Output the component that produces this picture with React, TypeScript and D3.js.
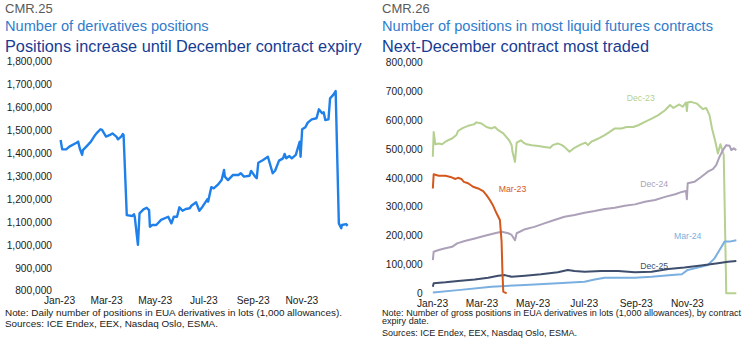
import * as d3 from "d3"
import { useEffect, useRef } from "react"

const FONT = '"Liberation Sans", Arial, sans-serif'

// CMR.25 – daily EUA derivative positions, thousands of lots (MM-DD in 2023)
const totalPositions: [string, number][] = [
  ["01-03", 1458], ["01-05", 1417], ["01-10", 1417], ["01-14", 1429], ["01-23", 1446],
  ["01-25", 1451], ["01-27", 1422], ["01-30", 1393], ["01-31", 1414], ["02-06", 1436],
  ["02-10", 1451], ["02-14", 1473], ["02-17", 1487], ["02-22", 1505], ["02-24", 1502],
  ["03-01", 1473], ["03-06", 1480], ["03-09", 1487], ["03-14", 1473], ["03-16", 1461],
  ["03-20", 1473], ["03-22", 1484], ["03-23", 1480], ["03-27", 1130], ["04-03", 1126],
  ["04-05", 1134], ["04-06", 1123], ["04-10", 1000], ["04-12", 1138], ["04-17", 1155],
  ["04-21", 1162], ["04-24", 1152], ["04-25", 1079], ["04-28", 1087], ["05-03", 1087],
  ["05-09", 1109], ["05-18", 1123], ["05-22", 1094], ["05-25", 1123], ["05-29", 1123],
  ["06-01", 1164], ["06-05", 1149], ["06-09", 1157], ["06-14", 1160], ["06-16", 1171],
  ["06-22", 1186], ["06-26", 1149], ["06-30", 1167], ["07-06", 1199], ["07-07", 1189],
  ["07-11", 1252], ["07-14", 1247], ["07-19", 1262], ["07-24", 1283], ["07-27", 1327],
  ["07-28", 1298], ["08-01", 1283], ["08-07", 1305], ["08-14", 1305], ["08-17", 1313],
  ["08-21", 1298], ["08-28", 1302], ["08-30", 1323], ["09-04", 1298], ["09-06", 1291],
  ["09-08", 1359], ["09-14", 1371], ["09-20", 1385], ["09-26", 1313], ["09-29", 1324],
  ["10-04", 1368], ["10-09", 1378], ["10-11", 1397], ["10-13", 1378], ["10-17", 1388],
  ["10-20", 1378], ["10-25", 1393], ["10-30", 1451], ["10-31", 1385], ["11-02", 1505],
  ["11-06", 1514], ["11-09", 1534], ["11-14", 1548], ["11-20", 1553], ["11-23", 1592],
  ["11-27", 1575], ["11-29", 1579], ["12-01", 1545], ["12-05", 1548], ["12-07", 1640],
  ["12-11", 1655], ["12-14", 1672], ["12-18", 1094], ["12-21", 1073], ["12-22", 1087],
  ["12-27", 1091], ["12-29", 1083],
]

// CMR.26 – positions by contract, thousands of lots
const dec23: [string, number][] = [
  ["01-02", 473], ["01-03", 559], ["01-05", 516], ["01-09", 519], ["01-13", 516],
  ["01-17", 525], ["01-20", 530], ["01-25", 536], ["01-30", 548], ["02-01", 562],
  ["02-07", 573], ["02-13", 580], ["02-20", 585], ["02-23", 592], ["03-01", 588],
  ["03-07", 576], ["03-13", 571], ["03-17", 576], ["03-21", 565], ["03-27", 554],
  ["04-03", 530], ["04-06", 513], ["04-07", 490], ["04-10", 455], ["04-12", 522],
  ["04-17", 530], ["04-20", 522], ["04-24", 516], ["04-30", 513], ["05-08", 510],
  ["05-15", 507], ["05-22", 504], ["05-25", 513], ["05-31", 519], ["06-05", 513],
  ["06-08", 507], ["06-14", 490], ["06-20", 504], ["06-26", 513], ["07-03", 522],
  ["07-06", 513], ["07-10", 525], ["07-14", 530], ["07-20", 538], ["07-26", 548],
  ["08-01", 559], ["08-07", 571], ["08-15", 571], ["08-21", 576], ["08-29", 576],
  ["09-04", 582], ["09-12", 594], ["09-20", 605], ["09-28", 617], ["10-06", 634],
  ["10-12", 652], ["10-16", 642], ["10-23", 654], ["10-27", 646], ["10-31", 661],
  ["11-01", 631], ["11-02", 661], ["11-06", 663], ["11-13", 657], ["11-16", 649],
  ["11-20", 638], ["11-24", 642], ["11-28", 617], ["12-01", 571], ["12-05", 525],
  ["12-08", 484], ["12-11", 516], ["12-12", 507], ["12-15", 479], ["12-18", 0],
  ["12-30", 0],
]

const mar23: [string, number][] = [
  ["01-02", 363], ["01-03", 412], ["01-09", 407], ["01-17", 407], ["01-23", 403],
  ["01-29", 396], ["02-01", 400], ["02-05", 396], ["02-08", 386], ["02-13", 381],
  ["02-19", 369], ["02-25", 363], ["03-03", 354], ["03-07", 340], ["03-11", 323],
  ["03-15", 303], ["03-19", 277], ["03-23", 254], ["03-25", 179], ["03-26", 75],
  ["03-27", 6], ["03-31", 0],
]

const dec24: [string, number][] = [
  ["01-02", 115], ["01-03", 144], ["01-09", 150], ["01-17", 156], ["01-25", 161],
  ["01-31", 173], ["02-09", 181], ["02-21", 190], ["03-05", 199], ["03-17", 208],
  ["03-25", 213], ["04-02", 208], ["04-06", 202], ["04-10", 184], ["04-12", 208],
  ["04-22", 222], ["05-03", 230], ["05-15", 242], ["05-27", 254], ["06-08", 265],
  ["06-20", 271], ["07-02", 279], ["07-14", 285], ["07-26", 292], ["08-07", 296],
  ["08-19", 303], ["08-31", 308], ["09-12", 317], ["09-24", 323], ["10-06", 334],
  ["10-18", 343], ["10-27", 352], ["10-31", 354], ["11-01", 326], ["11-02", 381],
  ["11-10", 386], ["11-18", 403], ["11-26", 421], ["12-02", 430], ["12-06", 444],
  ["12-10", 473], ["12-14", 496], ["12-18", 513], ["12-22", 511], ["12-24", 496],
  ["12-27", 502], ["12-30", 496],
]

const mar24: [string, number][] = [
  ["01-02", 3], ["02-01", 11], ["03-13", 23], ["04-22", 29], ["05-31", 35],
  ["07-02", 40], ["07-14", 48], ["07-26", 54], ["08-11", 54], ["08-31", 54],
  ["09-20", 57], ["10-14", 63], ["10-26", 66], ["11-02", 81], ["11-14", 89],
  ["11-26", 98], ["12-04", 121], ["12-10", 150], ["12-16", 179], ["12-22", 179],
  ["12-30", 184],
]

const dec25: [string, number][] = [
  ["01-02", 23], ["01-03", 35], ["01-17", 38], ["02-01", 43], ["02-21", 48],
  ["03-09", 54], ["03-21", 61], ["03-29", 63], ["04-06", 57], ["04-22", 61],
  ["05-11", 66], ["05-31", 73], ["06-12", 81], ["06-20", 77], ["07-02", 75],
  ["07-22", 77], ["08-11", 77], ["08-31", 73], ["09-20", 75], ["10-10", 84],
  ["10-29", 89], ["11-18", 96], ["12-08", 104], ["12-20", 109], ["12-30", 112],
]

const monthTicks = ["01-01", "03-01", "05-01", "07-01", "09-01", "11-01"]
const leftYTicks = [800, 900, 1000, 1100, 1200, 1300, 1400, 1500, 1600, 1700, 1800]
const rightYTicks = [0, 100, 200, 300, 400, 500, 600, 700, 800]

const contracts = [
  { name: "Dec-23", data: dec23, colour: "#b5d090", label: ["09-07", 677] },
  { name: "Dec-24", data: dec24, colour: "#aca1b8", label: ["09-23", 377] },
  { name: "Mar-24", data: mar24, colour: "#7aafe0", label: ["11-02", 198] },
  { name: "Dec-25", data: dec25, colour: "#3e4e6c", label: ["09-23", 96] },
  { name: "Mar-23", data: mar23, colour: "#d4581c", label: ["04-07", 363] },
]

const parse = (md: string) => d3.timeParse("%Y-%m-%d")("2023-" + md) as Date
const fmtMonth = d3.timeFormat("%b-%y")
const fmtNum = d3.format(",")

const drawAxes = (g, x, y, yTicks, yAxisX, xAxisY) => {
  const yAxis = g
    .append("g")
    .attr("transform", `translate(${yAxisX},0)`)
    .call(
      d3
        .axisLeft(y)
        .tickValues(yTicks)
        .tickSize(0)
        .tickPadding(0)
        .tickFormat((d) => fmtNum(d * 1000))
    )
  yAxis.select(".domain").remove()
  yAxis.selectAll("text").style("font-size", "10.2px").attr("fill", "#1a1a1a")

  const xAxis = g
    .append("g")
    .attr("transform", `translate(0,${xAxisY})`)
    .call(
      d3
        .axisBottom(x)
        .tickValues(monthTicks.map(parse))
        .tickSize(0)
        .tickPadding(0)
        .tickFormat(fmtMonth)
    )
  xAxis.select(".domain").remove()
  xAxis.selectAll("text").style("font-size", "10.2px").attr("fill", "#1a1a1a")
  g.selectAll(".tick text").attr("font-family", FONT)
}

const App = () => {
  const ref = useRef()

  useEffect(() => {
    const svg = d3.select(ref.current)
    svg.selectAll("*").remove()
    svg.append("rect").attr("width", 752).attr("height", 352).attr("fill", "#fff")

    const heads = [
      { x: 5, code: "CMR.25", sub: "Number of derivatives positions", title: "Positions increase until December contract expiry" },
      { x: 382, code: "CMR.26", sub: "Number of positions in most liquid futures contracts", title: "Next-December contract most traded" },
    ]
    heads.forEach((h) => {
      const t = svg.append("g").attr("font-family", FONT)
      t.append("text").attr("x", h.x).attr("y", 12.7).attr("font-size", 13).attr("fill", "#5a5a5a").text(h.code)
      t.append("text").attr("x", h.x).attr("y", 30.8).attr("font-size", 14.6).attr("fill", "#2f7ccc").text(h.sub)
      t.append("text").attr("x", h.x).attr("y", 51.5).attr("font-size", 16.3).attr("fill", "#163c94").text(h.title)
    })

    // left panel
    const xL = d3.scaleTime().domain([parse("01-01"), new Date(2024, 0, 1)]).range([59, 350])
    const yL = d3.scaleLinear().domain([800, 1800]).range([290.7, 61.7])
    const left = svg.append("g").attr("font-family", FONT)
    drawAxes(left, xL, yL, leftYTicks, 52, 296.5)
    left
      .append("path")
      .datum(totalPositions)
      .attr("fill", "none")
      .attr("stroke", "#1f80ea")
      .attr("stroke-width", 2.4)
      .attr("stroke-linejoin", "round")
      .attr("d", d3.line().x((d) => xL(parse(d[0]))).y((d) => yL(d[1])))

    // right panel
    const xR = d3.scaleTime().domain([parse("01-01"), new Date(2024, 0, 1)]).range([432, 738])
    const yR = d3.scaleLinear().domain([0, 800]).range([293.3, 62.3])
    const right = svg.append("g").attr("font-family", FONT)
    drawAxes(right, xR, yR, rightYTicks, 422.7, 300)
    const line = d3.line().x((d) => xR(parse(d[0]))).y((d) => yR(d[1]))
    contracts.forEach((c) => {
      right
        .append("path")
        .datum(c.data)
        .attr("fill", "none")
        .attr("stroke", c.colour)
        .attr("stroke-width", 2)
        .attr("stroke-linejoin", "round")
        .attr("d", line)
      right
        .append("text")
        .attr("x", xR(parse(c.label[0])))
        .attr("y", yR(c.label[1]))
        .attr("dy", "0.35em")
        .attr("text-anchor", "middle")
        .attr("font-size", 8.7)
        .attr("fill", c.colour)
        .text(c.name)
    })

    // notes
    const notes = [
      { x: 5, y: 315.6, size: 9.9, t: "Note: Daily number of positions in EUA derivatives in lots (1,000 allowances)." },
      { x: 5, y: 327.4, size: 9.9, t: "Sources: ICE Endex, EEX, Nasdaq Oslo, ESMA." },
      { x: 382, y: 315.8, size: 9.05, t: "Note: Number of gross positions in EUA derivatives in lots (1,000 allowances), by contract" },
      { x: 382, y: 324.4, size: 9.05, t: "expiry date." },
      { x: 382, y: 335.6, size: 9.05, t: "Sources: ICE Endex, EEX, Nasdaq Oslo, ESMA." },
    ]
    svg
      .append("g")
      .attr("font-family", FONT)
      .attr("fill", "#1a1a1a")
      .selectAll("text")
      .data(notes)
      .enter()
      .append("text")
      .attr("x", (d) => d.x)
      .attr("y", (d) => d.y)
      .attr("font-size", (d) => d.size)
      .text((d) => d.t)
  }, [])

  return (
    <svg
      ref={ref}
      width={752}
      height={352}
      style={{ position: "absolute", left: 0, top: 0 }}
    ></svg>
  )
}

export default App
